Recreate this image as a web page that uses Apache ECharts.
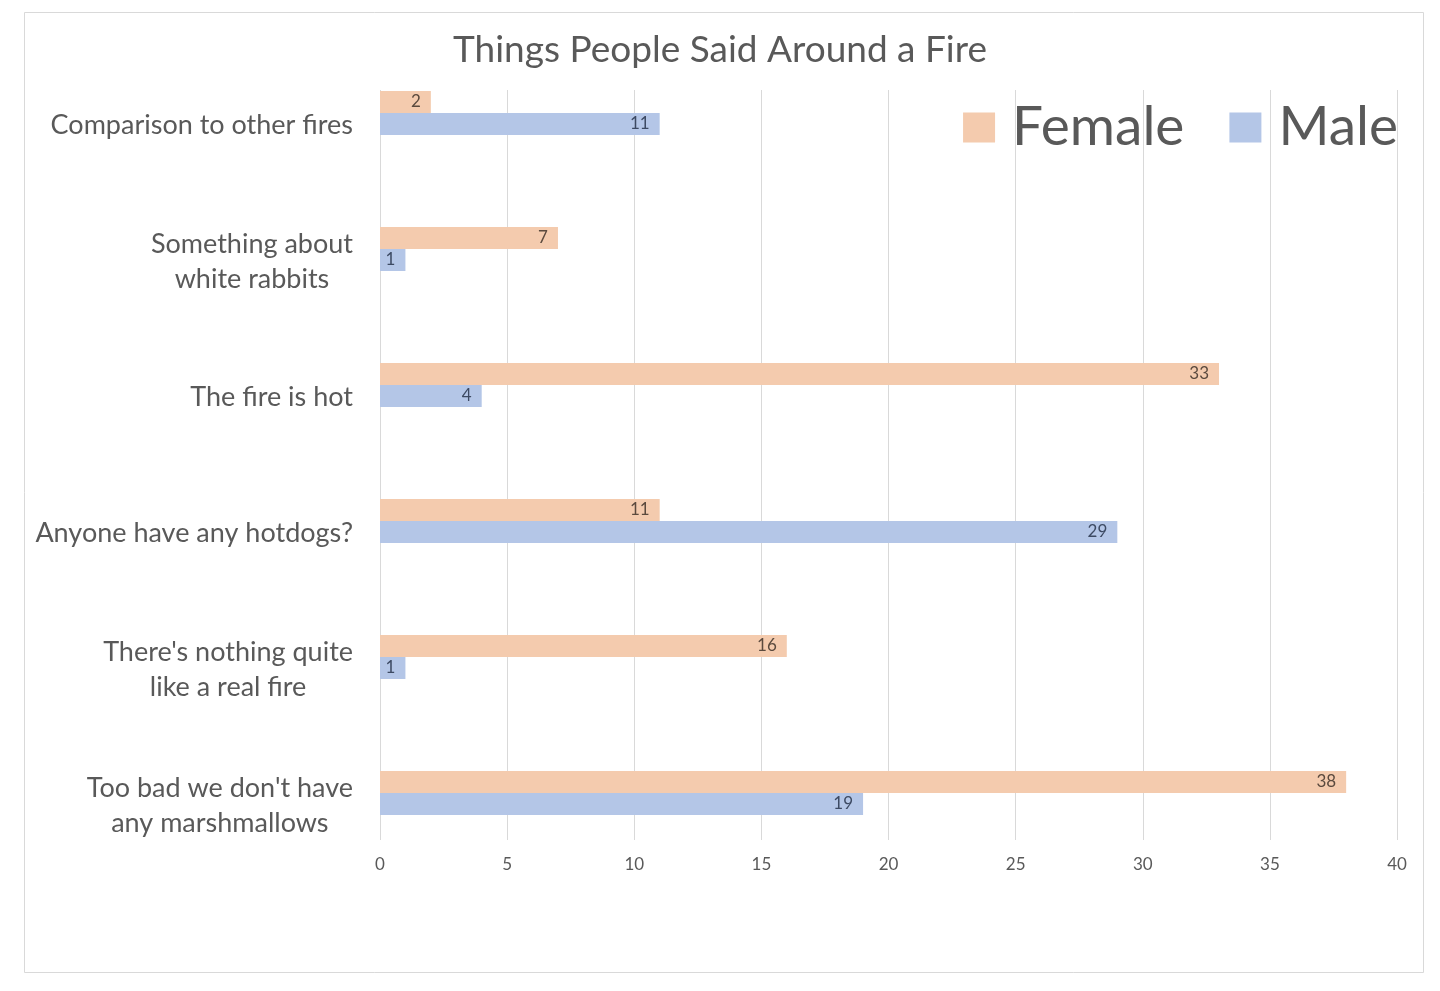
<!DOCTYPE html>
<html>
<head>
<meta charset="utf-8">
<title>Things People Said Around a Fire</title>
<script src="https://cdn.jsdelivr.net/npm/echarts@6/dist/echarts.min.js"></script>
<style>
  html, body { margin: 0; padding: 0; background: #fff; }
  #chart { width: 1440px; height: 991px; }
</style>
</head>
<body>
<div id="chart"></div>
<script>
// data
var categories = [
  'Comparison to other fires',
  'Something about\nwhite rabbits',
  'The fire is hot',
  'Anyone have any hotdogs?',
  "There's nothing quite\nlike a real fire",
  "Too bad we don't have\nany marshmallows"
];
var seriesNames = ['Female', 'Male'];
var female = [2, 7, 33, 11, 16, 38];
var male = [11, 1, 4, 29, 1, 19];
var xMin = 0, xMax = 40, xStep = 5;

var font = 'Lato, "Noto Sans", sans-serif';
var grey = '#595959';

var chart = echarts.init(document.getElementById('chart'));

// each line of a category label is centred inside its block (like Excel)
function catLabel(value) {
  return value.split('\n').map(function (l) { return '{c|' + l + '}'; }).join('\n');
}

chart.setOption({
  backgroundColor: '#fff',
  animation: false,
  color: ['#F4CBAE', '#B4C6E7'],
  graphic: [{
    type: 'rect',
    shape: { x: 24.5, y: 12.5, width: 1399, height: 960 },
    style: { fill: 'none', stroke: '#d9d9d9', lineWidth: 1 },
    silent: true
  }],
  title: {
    text: 'Things People Said Around a Fire',
    left: 'center',
    top: 27,
    textStyle: { fontSize: 37, fontWeight: 'normal', color: grey, fontFamily: font }
  },
  legend: {
    data: seriesNames,
    right: 37,
    top: 95,
    icon: 'rect',
    itemWidth: 32,
    itemHeight: 30,
    itemGap: 45,
    textStyle: { fontSize: 55, color: grey, fontFamily: font, padding: [0, 0, 0, 12] }
  },
  grid: [
    // bars: category centres sit on the ticks
    { left: 380, right: 43, top: 113, bottom: 198 },
    // gridlines + value labels
    { left: 380, right: 43, top: 90, bottom: 151 }
  ],
  xAxis: [{
    gridIndex: 0, type: 'value', min: xMin, max: xMax, interval: xStep, show: false
  }, {
    gridIndex: 1, type: 'value', min: xMin, max: xMax, interval: xStep,
    axisLine: { show: false },
    axisTick: { show: false },
    splitLine: { lineStyle: { color: '#d9d9d9', width: 1 } },
    axisLabel: { fontSize: 17, color: grey, fontFamily: font, margin: 16 }
  }],
  yAxis: [{
    gridIndex: 0,
    type: 'category',
    data: categories,
    inverse: true,
    boundaryGap: false,
    axisLine: { show: false },
    axisTick: { show: false },
    splitLine: { show: false },
    axisLabel: {
      margin: 27,
      padding: [25, 0, 0, 0],
      formatter: catLabel,
      rich: {
        c: { align: 'center', fontSize: 27, lineHeight: 35, color: grey, fontFamily: font }
      }
    }
  }, {
    gridIndex: 1, type: 'value', min: 0, max: 1, show: false
  }],
  series: [{
    name: seriesNames[0],
    type: 'bar',
    xAxisIndex: 0,
    yAxisIndex: 0,
    data: female,
    barWidth: 22,
    barGap: '0%',
    label: { show: true, position: 'insideRight', distance: 10, fontSize: 17, color: '#5b4a3e', fontFamily: font }
  }, {
    name: seriesNames[1],
    type: 'bar',
    xAxisIndex: 0,
    yAxisIndex: 0,
    data: male,
    barWidth: 22,
    barGap: '0%',
    label: { show: true, position: 'insideRight', distance: 10, fontSize: 17, color: '#3d4a63', fontFamily: font }
  }]
});
</script>
</body>
</html>
